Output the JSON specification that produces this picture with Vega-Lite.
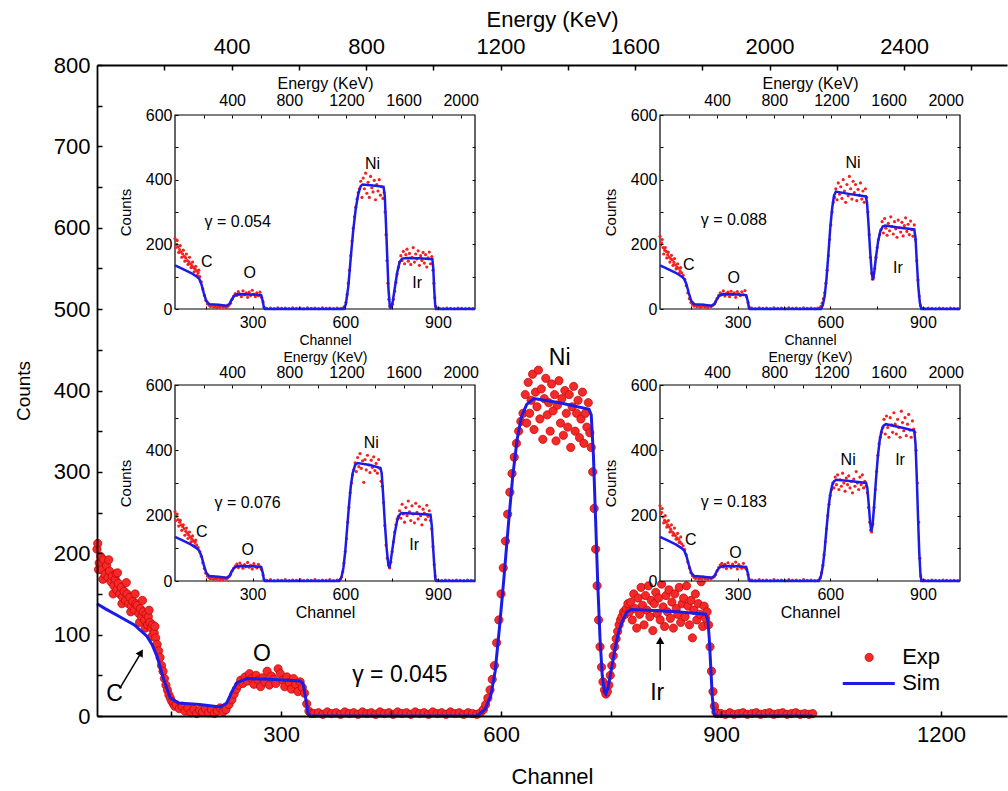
{
"$schema":"https://vega.github.io/schema/vega-lite/v6.json",
"autosize":{"type":"none"},
"width":910,"height":651,
"padding":{"left":97,"top":65,"right":1,"bottom":75},
"background":"white",
"config":{"view":{"stroke":null},"font":"Liberation Sans",
 "axis":{"grid":false,"labelFont":"Liberation Sans","titleFont":"Liberation Sans","labelColor":"black","titleColor":"black","domainColor":"black","tickColor":"black","titleFontWeight":"normal","format":"d","labelOverlap":false,"labelFlush":false},
 "text":{"font":"Liberation Sans"}},
"datasets":{
"mainFrame":[{"e0":0,"e1":2706,"y0":0,"y1":800}],
"insetFrame":[{"e0":0,"e1":2100,"y0":0,"y1":600}],
"mainExp":[{"c":49,"v":205},{"c":50,"v":212},{"c":51,"v":180},{"c":52,"v":188},{"c":54,"v":196},{"c":56,"v":180},{"c":57,"v":168},{"c":58,"v":192},{"c":60,"v":174},{"c":62,"v":185},{"c":64,"v":170},{"c":65,"v":192},{"c":66,"v":178},{"c":68,"v":165},{"c":70,"v":172},{"c":71,"v":150},{"c":72,"v":160},{"c":74,"v":168},{"c":75,"v":175},{"c":76,"v":155},{"c":77,"v":176},{"c":78,"v":163},{"c":80,"v":150},{"c":82,"v":158},{"c":83,"v":138},{"c":84,"v":146},{"c":86,"v":153},{"c":88,"v":142},{"c":89,"v":164},{"c":90,"v":150},{"c":92,"v":138},{"c":94,"v":146},{"c":95,"v":128},{"c":96,"v":135},{"c":98,"v":141},{"c":100,"v":130},{"c":101,"v":150},{"c":102,"v":138},{"c":104,"v":136},{"c":106,"v":126},{"c":107,"v":115},{"c":108,"v":132},{"c":110,"v":122},{"c":111,"v":142},{"c":112,"v":128},{"c":114,"v":118},{"c":115,"v":108},{"c":116,"v":125},{"c":118,"v":112},{"c":119,"v":122},{"c":120,"v":130},{"c":121,"v":115},{"c":123,"v":108},{"c":124,"v":98},{"c":125,"v":112},{"c":127,"v":102},{"c":128,"v":110},{"c":129,"v":96},{"c":131,"v":88},{"c":133,"v":80},{"c":135,"v":72},{"c":137,"v":62},{"c":139,"v":55},{"c":141,"v":46},{"c":143,"v":38},{"c":145,"v":32},{"c":147,"v":26},{"c":149,"v":22},{"c":151,"v":18},{"c":153,"v":15},{"c":155,"v":12},
{"c":157,"v":14},{"c":161,"v":9},{"c":165,"v":12},{"c":169,"v":6},{"c":173,"v":10},{"c":177,"v":4},{"c":181,"v":8},{"c":185,"v":3},{"c":189,"v":7},{"c":193,"v":5},{"c":197,"v":9},{"c":201,"v":4},{"c":205,"v":8},{"c":209,"v":3},{"c":213,"v":6},{"c":217,"v":10},{"c":221,"v":5},{"c":225,"v":8},{"c":229,"v":14},{"c":233,"v":20},
{"c":236,"v":27},{"c":239,"v":33},{"c":242,"v":38},{"c":245,"v":44},{"c":248,"v":40},{"c":251,"v":48},{"c":254,"v":43},{"c":257,"v":52},{"c":260,"v":46},{"c":263,"v":39},{"c":266,"v":50},{"c":269,"v":44},{"c":272,"v":36},{"c":275,"v":47},{"c":278,"v":42},{"c":281,"v":55},{"c":284,"v":38},{"c":287,"v":49},{"c":290,"v":45},{"c":293,"v":40},{"c":296,"v":58},{"c":299,"v":52},{"c":302,"v":44},{"c":305,"v":36},{"c":308,"v":48},{"c":311,"v":41},{"c":314,"v":33},{"c":317,"v":46},{"c":320,"v":39},{"c":323,"v":30},{"c":326,"v":42},{"c":329,"v":35},{"c":332,"v":28},{"c":335,"v":15},{"c":338,"v":6},{"c":341,"v":3},
{"c":345,"v":3},{"c":351,"v":4},{"c":357,"v":2},{"c":363,"v":5},{"c":369,"v":3},{"c":375,"v":4},{"c":381,"v":2},{"c":387,"v":5},{"c":393,"v":3},{"c":399,"v":4},{"c":405,"v":2},{"c":411,"v":5},{"c":417,"v":3},{"c":423,"v":4},{"c":429,"v":2},{"c":435,"v":5},{"c":441,"v":3},{"c":447,"v":4},{"c":453,"v":2},{"c":459,"v":5},{"c":465,"v":3},{"c":471,"v":4},{"c":477,"v":2},{"c":483,"v":5},{"c":489,"v":3},{"c":495,"v":4},{"c":501,"v":2},{"c":507,"v":5},{"c":513,"v":3},{"c":519,"v":4},{"c":525,"v":2},{"c":531,"v":5},{"c":537,"v":3},{"c":543,"v":4},{"c":549,"v":2},{"c":555,"v":4},{"c":561,"v":3},{"c":567,"v":2},
{"c":572,"v":4},{"c":576,"v":8},{"c":579,"v":14},{"c":582,"v":22},{"c":585,"v":32},{"c":588,"v":45},{"c":591,"v":62},{"c":594,"v":90},{"c":597,"v":118},{"c":600,"v":150},{"c":603,"v":182},{"c":606,"v":215},{"c":609,"v":248},{"c":612,"v":275},{"c":615,"v":298},{"c":618,"v":318},{"c":621,"v":335},{"c":624,"v":350},{"c":627,"v":362},{"c":630,"v":372},
{"c":633,"v":395},{"c":635,"v":360},{"c":637,"v":410},{"c":639,"v":372},{"c":641,"v":388},{"c":643,"v":420},{"c":645,"v":352},{"c":647,"v":398},{"c":649,"v":380},{"c":651,"v":425},{"c":653,"v":365},{"c":655,"v":402},{"c":657,"v":340},{"c":659,"v":390},{"c":661,"v":415},{"c":663,"v":370},{"c":665,"v":385},{"c":667,"v":350},{"c":669,"v":408},{"c":671,"v":375},{"c":673,"v":395},{"c":675,"v":338},{"c":677,"v":382},{"c":679,"v":412},{"c":681,"v":360},{"c":683,"v":390},{"c":685,"v":345},{"c":687,"v":400},{"c":689,"v":372},{"c":691,"v":355},{"c":693,"v":395},{"c":695,"v":330},{"c":697,"v":380},{"c":699,"v":405},{"c":701,"v":350},{"c":703,"v":372},{"c":705,"v":388},{"c":707,"v":342},{"c":709,"v":365},{"c":711,"v":398},{"c":713,"v":335},{"c":715,"v":372},{"c":717,"v":355},{"c":719,"v":385},{"c":721,"v":348},{"c":723,"v":330},
{"c":725,"v":300},{"c":727,"v":255},{"c":729,"v":205},{"c":731,"v":160},{"c":733,"v":118},{"c":735,"v":85},{"c":737,"v":60},{"c":739,"v":42},{"c":741,"v":32},{"c":743,"v":27},{"c":745,"v":30},{"c":747,"v":38},{"c":749,"v":50},{"c":751,"v":62},{"c":753,"v":74},{"c":755,"v":85},{"c":757,"v":95},{"c":759,"v":104},{"c":761,"v":112},{"c":763,"v":118},{"c":765,"v":122},{"c":767,"v":128},{"c":769,"v":125},{"c":771,"v":132},{"c":773,"v":138},{"c":775,"v":128},
{"c":777,"v":140},{"c":779,"v":118},{"c":781,"v":150},{"c":783,"v":132},{"c":785,"v":108},{"c":787,"v":145},{"c":789,"v":125},{"c":791,"v":158},{"c":793,"v":136},{"c":795,"v":112},{"c":797,"v":148},{"c":799,"v":130},{"c":801,"v":160},{"c":803,"v":122},{"c":805,"v":142},{"c":807,"v":105},{"c":809,"v":138},{"c":811,"v":152},{"c":813,"v":126},{"c":815,"v":145},{"c":817,"v":118},{"c":819,"v":162},{"c":821,"v":134},{"c":823,"v":110},{"c":825,"v":148},{"c":827,"v":128},{"c":829,"v":155},{"c":831,"v":120},{"c":833,"v":140},{"c":835,"v":108},{"c":837,"v":150},{"c":839,"v":132},{"c":841,"v":125},{"c":843,"v":158},{"c":845,"v":115},{"c":847,"v":138},{"c":849,"v":145},{"c":851,"v":122},{"c":853,"v":160},{"c":855,"v":135},{"c":857,"v":112},{"c":859,"v":142},{"c":861,"v":96},{"c":863,"v":130},{"c":865,"v":150},{"c":867,"v":118},{"c":869,"v":138},{"c":871,"v":125},{"c":873,"v":165},{"c":875,"v":110},{"c":877,"v":135},{"c":879,"v":120},{"c":881,"v":128},
{"c":883,"v":112},{"c":885,"v":85},{"c":887,"v":55},{"c":889,"v":30},{"c":891,"v":12},{"c":893,"v":5},{"c":895,"v":3},
{"c":900,"v":3},{"c":906,"v":2},{"c":912,"v":4},{"c":918,"v":2},{"c":924,"v":3},{"c":930,"v":4},{"c":936,"v":2},{"c":942,"v":3},{"c":948,"v":4},{"c":954,"v":2},{"c":960,"v":3},{"c":966,"v":4},{"c":972,"v":2},{"c":978,"v":3},{"c":984,"v":4},{"c":990,"v":2},{"c":996,"v":3},{"c":1002,"v":4},{"c":1008,"v":2},{"c":1014,"v":3},{"c":1020,"v":2},{"c":1025,"v":3}],
"mainSim":[{"c":49,"v":138},{"c":60,"v":132},{"c":80,"v":122},{"c":100,"v":112},{"c":117,"v":98},{"c":124,"v":88},{"c":131,"v":73},{"c":140,"v":45},{"c":149,"v":22},{"c":160,"v":16},{"c":189,"v":14},{"c":217,"v":11},{"c":226,"v":16},{"c":233,"v":30},{"c":240,"v":41},{"c":254,"v":46},{"c":290,"v":45},{"c":326,"v":43},{"c":330,"v":40},{"c":333,"v":25},{"c":337,"v":3},{"c":340,"v":0},{"c":567,"v":0},{"c":578,"v":8},{"c":586,"v":25},{"c":592,"v":55},{"c":598,"v":110},{"c":604,"v":170},{"c":610,"v":235},{"c":616,"v":295},{"c":622,"v":340},{"c":628,"v":368},{"c":635,"v":383},{"c":645,"v":390},{"c":680,"v":385},{"c":720,"v":377},{"c":723,"v":370},{"c":726,"v":320},{"c":729,"v":240},{"c":732,"v":160},{"c":735,"v":95},{"c":738,"v":50},{"c":741,"v":30},{"c":743,"v":27},{"c":746,"v":35},{"c":750,"v":55},{"c":755,"v":80},{"c":760,"v":102},{"c":766,"v":118},{"c":772,"v":128},{"c":778,"v":131},{"c":800,"v":130},{"c":840,"v":128},{"c":879,"v":125},{"c":882,"v":118},{"c":884,"v":95},{"c":886,"v":60},{"c":888,"v":25},{"c":890,"v":5},{"c":892,"v":0},{"c":1025,"v":0}],
"mainText":[{"c":680,"v":440,"t":"Ni"},{"c":274,"v":76,"t":"O"},{"c":73,"v":27,"t":"C"},{"c":813,"v":28,"t":"Ir"},{"c":462,"v":50,"t":"γ = 0.045"}],
"arrowLines":[{"c":80,"v":34,"c2":108,"v2":76},{"c":817,"v":56,"c2":817,"v2":90}],
"arrowC":[{"c":109,"v":78}],
"arrowIr":[{"c":817,"v":93}],
"legPoint":[{"c":1102,"v":72}],
"legLine":[{"c":1066,"c2":1137,"v":40}],
"legText":[{"c":1147,"v":72,"t":"Exp"},{"c":1147,"v":40,"t":"Sim"}],
"aExp":[{"c":49,"v":218},{"c":51,"v":190},{"c":54,"v":200},{"c":56,"v":212},{"c":59,"v":192},{"c":61,"v":175},{"c":64,"v":184},{"c":66,"v":196},{"c":69,"v":176},{"c":71,"v":160},{"c":74,"v":170},{"c":76,"v":182},{"c":79,"v":163},{"c":81,"v":148},{"c":84,"v":158},{"c":86,"v":170},{"c":89,"v":150},{"c":91,"v":138},{"c":94,"v":146},{"c":96,"v":160},{"c":99,"v":140},{"c":101,"v":128},{"c":104,"v":134},{"c":106,"v":145},{"c":109,"v":128},{"c":111,"v":115},{"c":114,"v":124},{"c":116,"v":132},{"c":119,"v":118},{"c":121,"v":104},{"c":124,"v":112},{"c":126,"v":120},{"c":129,"v":100},{"c":134,"v":84},{"c":139,"v":62},{"c":144,"v":42},{"c":149,"v":26},{"c":154,"v":16},{"c":159,"v":12},{"c":164,"v":8},{"c":169,"v":13},{"c":174,"v":6},{"c":179,"v":10},{"c":184,"v":4},{"c":189,"v":9},{"c":194,"v":5},{"c":199,"v":11},{"c":204,"v":6},{"c":209,"v":9},{"c":214,"v":4},{"c":219,"v":8},{"c":224,"v":12},{"c":229,"v":18},{"c":234,"v":30},{"c":239,"v":40},{"c":244,"v":48},{"c":249,"v":42},{"c":254,"v":54},{"c":259,"v":46},{"c":264,"v":38},{"c":269,"v":56},{"c":274,"v":44},{"c":279,"v":50},{"c":284,"v":36},{"c":289,"v":52},{"c":294,"v":42},{"c":299,"v":58},{"c":304,"v":46},{"c":309,"v":38},{"c":314,"v":50},{"c":319,"v":41},{"c":324,"v":52},{"c":329,"v":36},{"c":334,"v":22},{"c":338,"v":5},
{"c":346,"v":2},{"c":358,"v":3},{"c":370,"v":1},{"c":382,"v":4},{"c":394,"v":2},{"c":406,"v":3},{"c":418,"v":1},{"c":430,"v":4},{"c":442,"v":2},{"c":454,"v":3},{"c":466,"v":1},{"c":478,"v":4},{"c":490,"v":2},{"c":502,"v":3},{"c":514,"v":1},{"c":526,"v":4},{"c":538,"v":2},{"c":550,"v":3},{"c":562,"v":1},{"c":574,"v":3},{"c":586,"v":2},{"c":594,"v":4},
{"c":598,"v":8},{"c":602,"v":20},{"c":606,"v":45},{"c":610,"v":80},{"c":614,"v":120},{"c":618,"v":165},{"c":622,"v":210},{"c":626,"v":250},{"c":630,"v":285},{"c":634,"v":315},{"c":638,"v":340},{"c":642,"v":360},{"c":646,"v":372},{"c":650,"v":395},{"c":654,"v":345},{"c":658,"v":405},{"c":662,"v":372},{"c":666,"v":420},{"c":670,"v":358},{"c":674,"v":392},{"c":678,"v":345},{"c":682,"v":410},{"c":686,"v":375},{"c":690,"v":362},{"c":694,"v":398},{"c":698,"v":338},{"c":702,"v":385},{"c":706,"v":365},{"c":710,"v":400},{"c":714,"v":352},{"c":718,"v":378},{"c":722,"v":342},{"c":726,"v":360},{"c":729,"v":300},{"c":732,"v":230},{"c":735,"v":150},{"c":738,"v":80},{"c":741,"v":30},{"c":744,"v":8},{"c":747,"v":4},{"c":750,"v":8},
{"c":753,"v":15},{"c":756,"v":30},{"c":760,"v":55},{"c":764,"v":82},{"c":768,"v":108},{"c":772,"v":128},{"c":776,"v":145},{"c":780,"v":165},{"c":784,"v":150},{"c":788,"v":178},{"c":792,"v":140},{"c":796,"v":168},{"c":800,"v":185},{"c":804,"v":148},{"c":808,"v":172},{"c":812,"v":138},{"c":816,"v":160},{"c":820,"v":190},{"c":824,"v":145},{"c":828,"v":170},{"c":832,"v":155},{"c":836,"v":180},{"c":840,"v":135},{"c":844,"v":165},{"c":848,"v":150},{"c":852,"v":175},{"c":856,"v":142},{"c":860,"v":168},{"c":864,"v":130},{"c":868,"v":158},{"c":872,"v":176},{"c":876,"v":140},{"c":880,"v":162},{"c":884,"v":120},{"c":887,"v":80},{"c":890,"v":35},{"c":893,"v":8},{"c":896,"v":2},
{"c":905,"v":2},{"c":917,"v":1},{"c":929,"v":3},{"c":941,"v":2},{"c":953,"v":1},{"c":965,"v":3},{"c":977,"v":2},{"c":989,"v":1},{"c":1001,"v":2},{"c":1013,"v":1}],
"aSim":[{"c":49,"v":135},{"c":70,"v":126},{"c":100,"v":112},{"c":120,"v":100},{"c":128,"v":92},{"c":135,"v":75},{"c":142,"v":50},{"c":150,"v":25},{"c":160,"v":15},{"c":190,"v":13},{"c":215,"v":10},{"c":225,"v":15},{"c":232,"v":28},{"c":240,"v":40},{"c":252,"v":46},{"c":300,"v":45},{"c":328,"v":43},{"c":333,"v":25},{"c":337,"v":3},{"c":340,"v":0},{"c":595,"v":0},{"c":602,"v":15},{"c":610,"v":70},{"c":618,"v":160},{"c":626,"v":245},{"c":634,"v":310},{"c":642,"v":355},{"c":650,"v":380},{"c":656,"v":385},{"c":690,"v":382},{"c":724,"v":378},{"c":728,"v":350},{"c":732,"v":260},{"c":736,"v":160},{"c":740,"v":60},{"c":744,"v":12},{"c":747,"v":4},{"c":750,"v":6},{"c":754,"v":25},{"c":760,"v":62},{"c":768,"v":112},{"c":776,"v":145},{"c":784,"v":156},{"c":800,"v":158},{"c":840,"v":157},{"c":882,"v":154},{"c":885,"v":125},{"c":888,"v":60},{"c":891,"v":15},{"c":894,"v":0},{"c":1020,"v":0}],
"aText":[{"c":688,"v":450,"t":"Ni"},{"c":152,"v":145,"t":"C"},{"c":291,"v":111,"t":"O"},{"c":833,"v":80,"t":"Ir"},{"c":252,"v":269,"t":"γ = 0.054"}],
"bExp":[{"c":49,"v":225},{"c":51,"v":198},{"c":54,"v":205},{"c":56,"v":215},{"c":59,"v":190},{"c":61,"v":170},{"c":64,"v":182},{"c":66,"v":190},{"c":69,"v":178},{"c":71,"v":158},{"c":74,"v":168},{"c":76,"v":176},{"c":79,"v":160},{"c":81,"v":145},{"c":84,"v":155},{"c":86,"v":166},{"c":89,"v":152},{"c":91,"v":135},{"c":94,"v":144},{"c":96,"v":156},{"c":99,"v":136},{"c":101,"v":124},{"c":104,"v":130},{"c":106,"v":140},{"c":109,"v":126},{"c":111,"v":110},{"c":114,"v":118},{"c":116,"v":128},{"c":119,"v":112},{"c":121,"v":100},{"c":124,"v":104},{"c":129,"v":92},{"c":134,"v":72},{"c":139,"v":50},{"c":144,"v":32},{"c":149,"v":20},{"c":154,"v":14},{"c":159,"v":9},{"c":164,"v":12},{"c":169,"v":7},{"c":174,"v":10},{"c":179,"v":5},{"c":184,"v":8},{"c":189,"v":12},{"c":194,"v":6},{"c":199,"v":9},{"c":204,"v":4},{"c":209,"v":10},{"c":214,"v":7},{"c":219,"v":11},{"c":224,"v":15},{"c":229,"v":22},{"c":234,"v":33},{"c":239,"v":42},{"c":244,"v":50},{"c":249,"v":44},{"c":254,"v":56},{"c":259,"v":40},{"c":264,"v":48},{"c":269,"v":52},{"c":274,"v":38},{"c":279,"v":55},{"c":284,"v":45},{"c":289,"v":50},{"c":294,"v":36},{"c":299,"v":54},{"c":304,"v":47},{"c":309,"v":41},{"c":314,"v":53},{"c":319,"v":44},{"c":324,"v":57},{"c":329,"v":38},{"c":334,"v":20},{"c":338,"v":6},
{"c":346,"v":3},{"c":358,"v":1},{"c":370,"v":4},{"c":382,"v":2},{"c":394,"v":3},{"c":406,"v":1},{"c":418,"v":4},{"c":430,"v":2},{"c":442,"v":3},{"c":454,"v":1},{"c":466,"v":4},{"c":478,"v":2},{"c":490,"v":3},{"c":502,"v":1},{"c":514,"v":4},{"c":526,"v":2},{"c":538,"v":3},{"c":550,"v":1},{"c":560,"v":3},
{"c":566,"v":3},{"c":570,"v":8},{"c":574,"v":18},{"c":578,"v":32},{"c":582,"v":50},{"c":586,"v":80},{"c":590,"v":120},{"c":594,"v":165},{"c":598,"v":215},{"c":602,"v":260},{"c":606,"v":300},{"c":610,"v":330},{"c":614,"v":345},{"c":618,"v":372},{"c":622,"v":338},{"c":626,"v":390},{"c":630,"v":355},{"c":634,"v":378},{"c":638,"v":342},{"c":642,"v":400},{"c":646,"v":365},{"c":650,"v":330},{"c":654,"v":385},{"c":658,"v":350},{"c":662,"v":410},{"c":666,"v":372},{"c":670,"v":340},{"c":674,"v":395},{"c":678,"v":360},{"c":682,"v":385},{"c":686,"v":335},{"c":690,"v":370},{"c":694,"v":352},{"c":698,"v":390},{"c":702,"v":340},{"c":706,"v":365},{"c":710,"v":330},{"c":714,"v":372},{"c":718,"v":345},{"c":722,"v":300},{"c":726,"v":230},{"c":730,"v":160},{"c":734,"v":110},{"c":737,"v":92},{"c":740,"v":98},{"c":744,"v":125},{"c":748,"v":160},{"c":752,"v":190},{"c":756,"v":215},{"c":760,"v":230},
{"c":764,"v":245},{"c":768,"v":270},{"c":772,"v":235},{"c":776,"v":280},{"c":780,"v":250},{"c":784,"v":228},{"c":788,"v":265},{"c":792,"v":242},{"c":796,"v":285},{"c":800,"v":255},{"c":804,"v":232},{"c":808,"v":270},{"c":812,"v":248},{"c":816,"v":222},{"c":820,"v":275},{"c":824,"v":252},{"c":828,"v":238},{"c":832,"v":268},{"c":836,"v":226},{"c":840,"v":258},{"c":844,"v":282},{"c":848,"v":240},{"c":852,"v":262},{"c":856,"v":230},{"c":860,"v":272},{"c":864,"v":245},{"c":868,"v":225},{"c":872,"v":260},{"c":876,"v":215},{"c":880,"v":150},{"c":884,"v":90},{"c":888,"v":40},{"c":892,"v":10},{"c":896,"v":2},
{"c":905,"v":1},{"c":917,"v":3},{"c":929,"v":2},{"c":941,"v":1},{"c":953,"v":3},{"c":965,"v":2},{"c":977,"v":1},{"c":989,"v":3},{"c":1001,"v":2},{"c":1013,"v":1}],
"bSim":[{"c":49,"v":135},{"c":70,"v":126},{"c":100,"v":112},{"c":120,"v":100},{"c":128,"v":92},{"c":135,"v":75},{"c":142,"v":50},{"c":150,"v":25},{"c":160,"v":15},{"c":190,"v":13},{"c":215,"v":10},{"c":225,"v":15},{"c":232,"v":28},{"c":240,"v":40},{"c":252,"v":46},{"c":300,"v":45},{"c":328,"v":43},{"c":333,"v":25},{"c":337,"v":3},{"c":340,"v":0},{"c":570,"v":0},{"c":576,"v":12},{"c":582,"v":40},{"c":588,"v":95},{"c":594,"v":170},{"c":600,"v":250},{"c":606,"v":310},{"c":612,"v":350},{"c":618,"v":363},{"c":660,"v":356},{"c":715,"v":348},{"c":719,"v":330},{"c":724,"v":260},{"c":729,"v":180},{"c":734,"v":115},{"c":738,"v":90},{"c":742,"v":110},{"c":748,"v":160},{"c":755,"v":210},{"c":762,"v":240},{"c":770,"v":255},{"c":778,"v":258},{"c":820,"v":252},{"c":872,"v":246},{"c":876,"v":220},{"c":880,"v":150},{"c":885,"v":70},{"c":890,"v":20},{"c":895,"v":0},{"c":1020,"v":0}],
"bText":[{"c":674,"v":451,"t":"Ni"},{"c":142,"v":136,"t":"C"},{"c":288,"v":96,"t":"O"},{"c":819,"v":127,"t":"Ir"},{"c":288,"v":275,"t":"γ = 0.088"}],
"cExp":[{"c":49,"v":212},{"c":51,"v":185},{"c":54,"v":198},{"c":56,"v":205},{"c":59,"v":188},{"c":61,"v":168},{"c":64,"v":180},{"c":66,"v":186},{"c":69,"v":172},{"c":71,"v":155},{"c":74,"v":166},{"c":76,"v":172},{"c":79,"v":160},{"c":81,"v":140},{"c":84,"v":152},{"c":86,"v":162},{"c":89,"v":146},{"c":91,"v":130},{"c":94,"v":140},{"c":96,"v":150},{"c":99,"v":134},{"c":101,"v":120},{"c":104,"v":128},{"c":106,"v":138},{"c":109,"v":122},{"c":111,"v":108},{"c":114,"v":118},{"c":116,"v":125},{"c":119,"v":110},{"c":124,"v":102},{"c":129,"v":90},{"c":134,"v":76},{"c":139,"v":56},{"c":144,"v":38},{"c":149,"v":24},{"c":154,"v":15},{"c":159,"v":10},{"c":164,"v":7},{"c":169,"v":12},{"c":174,"v":5},{"c":179,"v":9},{"c":184,"v":6},{"c":189,"v":11},{"c":194,"v":4},{"c":199,"v":8},{"c":204,"v":5},{"c":209,"v":10},{"c":214,"v":6},{"c":219,"v":9},{"c":224,"v":14},{"c":229,"v":20},{"c":234,"v":31},{"c":239,"v":39},{"c":244,"v":46},{"c":249,"v":52},{"c":254,"v":41},{"c":259,"v":55},{"c":264,"v":47},{"c":269,"v":39},{"c":274,"v":50},{"c":279,"v":44},{"c":284,"v":57},{"c":289,"v":42},{"c":294,"v":48},{"c":299,"v":37},{"c":304,"v":53},{"c":309,"v":45},{"c":314,"v":40},{"c":319,"v":51},{"c":324,"v":43},{"c":329,"v":35},{"c":334,"v":18},{"c":338,"v":4},
{"c":346,"v":2},{"c":358,"v":4},{"c":370,"v":1},{"c":382,"v":3},{"c":394,"v":2},{"c":406,"v":4},{"c":418,"v":1},{"c":430,"v":3},{"c":442,"v":2},{"c":454,"v":4},{"c":466,"v":1},{"c":478,"v":3},{"c":490,"v":2},{"c":502,"v":4},{"c":514,"v":1},{"c":526,"v":3},{"c":538,"v":2},{"c":550,"v":4},{"c":562,"v":1},{"c":574,"v":3},{"c":580,"v":2},
{"c":584,"v":4},{"c":588,"v":12},{"c":592,"v":28},{"c":596,"v":55},{"c":600,"v":90},{"c":604,"v":130},{"c":608,"v":180},{"c":612,"v":225},{"c":616,"v":270},{"c":620,"v":300},{"c":624,"v":325},{"c":628,"v":340},{"c":632,"v":362},{"c":636,"v":335},{"c":640,"v":378},{"c":644,"v":350},{"c":648,"v":390},{"c":652,"v":345},{"c":656,"v":368},{"c":660,"v":302},{"c":664,"v":372},{"c":668,"v":340},{"c":672,"v":385},{"c":676,"v":355},{"c":680,"v":332},{"c":684,"v":370},{"c":688,"v":348},{"c":692,"v":380},{"c":696,"v":338},{"c":700,"v":360},{"c":704,"v":330},{"c":708,"v":372},{"c":712,"v":345},{"c":716,"v":305},{"c":720,"v":290},{"c":724,"v":240},{"c":728,"v":170},{"c":732,"v":110},{"c":736,"v":70},{"c":740,"v":48},{"c":744,"v":40},{"c":748,"v":58},{"c":752,"v":90},{"c":756,"v":120},{"c":760,"v":150},{"c":764,"v":172},{"c":768,"v":190},{"c":772,"v":198},
{"c":776,"v":215},{"c":780,"v":192},{"c":784,"v":235},{"c":788,"v":205},{"c":792,"v":180},{"c":796,"v":225},{"c":800,"v":200},{"c":804,"v":245},{"c":808,"v":212},{"c":812,"v":185},{"c":816,"v":230},{"c":820,"v":205},{"c":824,"v":178},{"c":828,"v":238},{"c":832,"v":210},{"c":836,"v":190},{"c":840,"v":228},{"c":844,"v":200},{"c":848,"v":172},{"c":852,"v":220},{"c":856,"v":208},{"c":860,"v":188},{"c":864,"v":232},{"c":868,"v":198},{"c":872,"v":215},{"c":876,"v":185},{"c":880,"v":160},{"c":884,"v":105},{"c":888,"v":50},{"c":891,"v":15},{"c":894,"v":3},
{"c":900,"v":2},{"c":912,"v":1},{"c":924,"v":3},{"c":936,"v":2},{"c":948,"v":1},{"c":960,"v":3},{"c":972,"v":2},{"c":984,"v":1},{"c":996,"v":3},{"c":1008,"v":2},{"c":1018,"v":1}],
"cSim":[{"c":49,"v":135},{"c":70,"v":126},{"c":100,"v":112},{"c":120,"v":100},{"c":128,"v":92},{"c":135,"v":75},{"c":142,"v":50},{"c":150,"v":25},{"c":160,"v":15},{"c":190,"v":13},{"c":215,"v":10},{"c":225,"v":15},{"c":232,"v":28},{"c":240,"v":40},{"c":252,"v":46},{"c":300,"v":45},{"c":328,"v":43},{"c":333,"v":25},{"c":337,"v":3},{"c":340,"v":0},{"c":580,"v":0},{"c":588,"v":12},{"c":594,"v":40},{"c":600,"v":90},{"c":606,"v":160},{"c":612,"v":230},{"c":618,"v":290},{"c":624,"v":330},{"c":632,"v":355},{"c":640,"v":361},{"c":680,"v":355},{"c":714,"v":346},{"c":718,"v":330},{"c":723,"v":260},{"c":728,"v":180},{"c":734,"v":100},{"c":739,"v":55},{"c":743,"v":40},{"c":747,"v":60},{"c":753,"v":100},{"c":760,"v":145},{"c":768,"v":185},{"c":776,"v":203},{"c":782,"v":208},{"c":830,"v":206},{"c":876,"v":203},{"c":880,"v":170},{"c":884,"v":110},{"c":888,"v":50},{"c":892,"v":5},{"c":895,"v":0},{"c":1020,"v":0}],
"cText":[{"c":684,"v":422,"t":"Ni"},{"c":136,"v":150,"t":"C"},{"c":284,"v":95,"t":"O"},{"c":823,"v":110,"t":"Ir"},{"c":284,"v":239,"t":"γ = 0.076"}],
"dExp":[{"c":49,"v":230},{"c":51,"v":205},{"c":54,"v":210},{"c":56,"v":222},{"c":59,"v":196},{"c":61,"v":178},{"c":64,"v":186},{"c":66,"v":200},{"c":69,"v":180},{"c":71,"v":165},{"c":74,"v":172},{"c":76,"v":185},{"c":79,"v":165},{"c":81,"v":150},{"c":84,"v":158},{"c":86,"v":172},{"c":89,"v":150},{"c":91,"v":140},{"c":94,"v":145},{"c":96,"v":162},{"c":99,"v":139},{"c":101,"v":128},{"c":104,"v":132},{"c":106,"v":146},{"c":109,"v":128},{"c":111,"v":118},{"c":114,"v":120},{"c":116,"v":135},{"c":119,"v":114},{"c":124,"v":108},{"c":129,"v":96},{"c":134,"v":80},{"c":139,"v":58},{"c":144,"v":40},{"c":149,"v":25},{"c":154,"v":16},{"c":159,"v":11},{"c":164,"v":8},{"c":169,"v":14},{"c":174,"v":6},{"c":179,"v":10},{"c":184,"v":5},{"c":189,"v":12},{"c":194,"v":7},{"c":199,"v":9},{"c":204,"v":4},{"c":209,"v":11},{"c":214,"v":6},{"c":219,"v":10},{"c":224,"v":13},{"c":229,"v":19},{"c":234,"v":32},{"c":239,"v":41},{"c":244,"v":49},{"c":249,"v":54},{"c":254,"v":43},{"c":259,"v":51},{"c":264,"v":38},{"c":269,"v":56},{"c":274,"v":46},{"c":279,"v":40},{"c":284,"v":52},{"c":289,"v":45},{"c":294,"v":58},{"c":299,"v":37},{"c":304,"v":50},{"c":309,"v":44},{"c":314,"v":39},{"c":319,"v":54},{"c":324,"v":41},{"c":329,"v":36},{"c":334,"v":19},{"c":338,"v":5},
{"c":346,"v":3},{"c":358,"v":1},{"c":370,"v":4},{"c":382,"v":2},{"c":394,"v":3},{"c":406,"v":1},{"c":418,"v":4},{"c":430,"v":2},{"c":442,"v":3},{"c":454,"v":1},{"c":466,"v":4},{"c":478,"v":2},{"c":490,"v":3},{"c":502,"v":1},{"c":514,"v":4},{"c":526,"v":2},{"c":538,"v":3},{"c":550,"v":1},{"c":560,"v":2},
{"c":564,"v":3},{"c":568,"v":10},{"c":572,"v":25},{"c":576,"v":48},{"c":580,"v":80},{"c":584,"v":120},{"c":588,"v":160},{"c":592,"v":200},{"c":596,"v":235},{"c":600,"v":262},{"c":604,"v":280},{"c":608,"v":300},{"c":612,"v":285},{"c":616,"v":318},{"c":620,"v":295},{"c":624,"v":325},{"c":628,"v":280},{"c":632,"v":310},{"c":636,"v":290},{"c":640,"v":330},{"c":644,"v":300},{"c":648,"v":275},{"c":652,"v":315},{"c":656,"v":295},{"c":660,"v":322},{"c":664,"v":285},{"c":668,"v":305},{"c":672,"v":270},{"c":676,"v":312},{"c":680,"v":290},{"c":684,"v":335},{"c":688,"v":300},{"c":692,"v":280},{"c":696,"v":318},{"c":700,"v":295},{"c":704,"v":325},{"c":708,"v":285},{"c":712,"v":305},{"c":716,"v":290},{"c":720,"v":270},{"c":724,"v":225},{"c":728,"v":180},{"c":731,"v":155},{"c":734,"v":150},{"c":738,"v":175},{"c":742,"v":225},{"c":746,"v":280},{"c":750,"v":335},{"c":754,"v":385},{"c":758,"v":420},{"c":762,"v":440},{"c":766,"v":455},
{"c":770,"v":470},{"c":774,"v":495},{"c":778,"v":450},{"c":782,"v":505},{"c":786,"v":470},{"c":790,"v":440},{"c":794,"v":500},{"c":798,"v":478},{"c":802,"v":455},{"c":806,"v":515},{"c":810,"v":480},{"c":814,"v":450},{"c":818,"v":495},{"c":822,"v":470},{"c":826,"v":440},{"c":830,"v":520},{"c":834,"v":485},{"c":838,"v":460},{"c":842,"v":500},{"c":846,"v":445},{"c":850,"v":480},{"c":854,"v":510},{"c":858,"v":462},{"c":862,"v":440},{"c":866,"v":490},{"c":870,"v":465},{"c":874,"v":455},{"c":878,"v":400},{"c":882,"v":300},{"c":886,"v":180},{"c":890,"v":70},{"c":893,"v":15},{"c":896,"v":3},
{"c":905,"v":2},{"c":917,"v":1},{"c":929,"v":3},{"c":941,"v":2},{"c":953,"v":1},{"c":965,"v":3},{"c":977,"v":2},{"c":989,"v":1},{"c":1001,"v":2},{"c":1013,"v":1}],
"dSim":[{"c":49,"v":135},{"c":70,"v":126},{"c":100,"v":112},{"c":120,"v":100},{"c":128,"v":92},{"c":135,"v":75},{"c":142,"v":50},{"c":150,"v":25},{"c":160,"v":15},{"c":190,"v":13},{"c":215,"v":10},{"c":225,"v":15},{"c":232,"v":28},{"c":240,"v":40},{"c":252,"v":46},{"c":300,"v":45},{"c":328,"v":43},{"c":333,"v":25},{"c":337,"v":3},{"c":340,"v":0},{"c":563,"v":0},{"c":570,"v":15},{"c":576,"v":45},{"c":582,"v":95},{"c":588,"v":160},{"c":594,"v":220},{"c":600,"v":265},{"c":606,"v":292},{"c":612,"v":305},{"c":620,"v":310},{"c":670,"v":305},{"c":716,"v":300},{"c":720,"v":285},{"c":725,"v":230},{"c":729,"v":180},{"c":733,"v":152},{"c":737,"v":170},{"c":742,"v":230},{"c":748,"v":310},{"c":754,"v":380},{"c":760,"v":430},{"c":766,"v":460},{"c":772,"v":475},{"c":780,"v":480},{"c":830,"v":470},{"c":872,"v":460},{"c":876,"v":420},{"c":880,"v":320},{"c":884,"v":200},{"c":888,"v":90},{"c":892,"v":20},{"c":895,"v":0},{"c":1020,"v":0}],
"dText":[{"c":658,"v":370,"t":"Ni"},{"c":826,"v":370,"t":"Ir"},{"c":149,"v":126,"t":"C"},{"c":293,"v":86,"t":"O"},{"c":288,"v":242,"t":"γ = 0.183"}]
},
"layer":[
{"data":{"name":"mainFrame"},"mark":{"type":"rect","fillOpacity":0,"strokeWidth":0},
 "encoding":{"x":{"field":"e0","type":"quantitative","scale":{"domain":[0,2706],"range":[0,910],"nice":false,"zero":false},
   "axis":{"zindex":1,"orient":"top","title":"Energy (KeV)","values":[200,400,600,800,1000,1200,1400,1600,1800,2000,2200,2400,2600],"labelExpr":"datum.value % 400 == 0 ? datum.label : ''","tickSize":-5,"tickWidth":1.5,"domainWidth":1.8,"labelPadding":12,"labelFontSize":22,"titleFontSize":22,"titlePadding":4}},
  "x2":{"field":"e1"},
  "y":{"field":"y0","type":"quantitative","scale":{"domain":[0,800],"range":[651,0],"nice":false,"zero":false},"axis":null},
  "y2":{"field":"y1"}}},
{"data":{"name":"mainExp"},"mark":{"type":"point","filled":true,"size":68,"fill":"#f42a2a","stroke":"#c00000","strokeWidth":0.7,"opacity":1},
 "encoding":{"x":{"field":"c","type":"quantitative","scale":{"domain":[49,1290],"range":[0,910],"nice":false,"zero":false},
   "axis":{"zindex":1,"orient":"bottom","title":"Channel","values":[150,300,450,600,750,900,1050,1200],"labelExpr":"datum.value % 300 == 0 ? datum.label : ''","tickSize":-5,"tickWidth":1.5,"domainWidth":1.8,"labelPadding":13,"labelFontSize":22,"titleFontSize":22,"titlePadding":21}},
  "y":{"field":"v","type":"quantitative","scale":{"domain":[0,800],"range":[651,0],"nice":false,"zero":false},
   "axis":{"zindex":1,"orient":"left","title":"Counts","values":[0,50,100,150,200,250,300,350,400,450,500,550,600,650,700,750,800],"labelExpr":"datum.value % 100 == 0 ? datum.label : ''","tickSize":-5,"tickWidth":1.5,"domainWidth":1.8,"labelPadding":12,"labelFontSize":22,"titleFontSize":19,"titlePadding":20}}}},
{"data":{"name":"mainSim"},"mark":{"type":"line","color":"#1c1ce6","strokeWidth":3},
 "encoding":{"x":{"field":"c","type":"quantitative","scale":{"domain":[49,1290],"range":[0,910],"nice":false,"zero":false},"axis":null},
  "y":{"field":"v","type":"quantitative","scale":{"domain":[0,800],"range":[651,0],"nice":false,"zero":false},"axis":null}}},
{"data":{"name":"mainText"},"mark":{"type":"text","fontSize":23,"color":"black"},
 "encoding":{"x":{"field":"c","type":"quantitative","scale":{"domain":[49,1290],"range":[0,910],"nice":false,"zero":false},"axis":null},
  "y":{"field":"v","type":"quantitative","scale":{"domain":[0,800],"range":[651,0],"nice":false,"zero":false},"axis":null},
  "text":{"field":"t"}}},
{"data":{"name":"arrowLines"},"mark":{"type":"rule","color":"black","strokeWidth":1.5},
 "encoding":{"x":{"field":"c","type":"quantitative","scale":{"domain":[49,1290],"range":[0,910],"nice":false,"zero":false},"axis":null},
  "x2":{"field":"c2"},
  "y":{"field":"v","type":"quantitative","scale":{"domain":[0,800],"range":[651,0],"nice":false,"zero":false},"axis":null},
  "y2":{"field":"v2"}}},
{"data":{"name":"arrowC"},"mark":{"type":"point","shape":"triangle-up","filled":true,"size":70,"color":"black","opacity":1,"angle":31},
 "encoding":{"x":{"field":"c","type":"quantitative","scale":{"domain":[49,1290],"range":[0,910],"nice":false,"zero":false},"axis":null},
  "y":{"field":"v","type":"quantitative","scale":{"domain":[0,800],"range":[651,0],"nice":false,"zero":false},"axis":null}}},
{"data":{"name":"arrowIr"},"mark":{"type":"point","shape":"triangle-up","filled":true,"size":70,"color":"black","opacity":1},
 "encoding":{"x":{"field":"c","type":"quantitative","scale":{"domain":[49,1290],"range":[0,910],"nice":false,"zero":false},"axis":null},
  "y":{"field":"v","type":"quantitative","scale":{"domain":[0,800],"range":[651,0],"nice":false,"zero":false},"axis":null}}},
{"data":{"name":"legPoint"},"mark":{"type":"point","filled":true,"size":68,"fill":"#f42a2a","stroke":"#c00000","strokeWidth":0.7,"opacity":1},
 "encoding":{"x":{"field":"c","type":"quantitative","scale":{"domain":[49,1290],"range":[0,910],"nice":false,"zero":false},"axis":null},
  "y":{"field":"v","type":"quantitative","scale":{"domain":[0,800],"range":[651,0],"nice":false,"zero":false},"axis":null}}},
{"data":{"name":"legLine"},"mark":{"type":"rule","color":"#1c1ce6","strokeWidth":3},
 "encoding":{"x":{"field":"c","type":"quantitative","scale":{"domain":[49,1290],"range":[0,910],"nice":false,"zero":false},"axis":null},
  "x2":{"field":"c2"},
  "y":{"field":"v","type":"quantitative","scale":{"domain":[0,800],"range":[651,0],"nice":false,"zero":false},"axis":null}}},
{"data":{"name":"legText"},"mark":{"type":"text","fontSize":22,"align":"left","color":"black"},
 "encoding":{"x":{"field":"c","type":"quantitative","scale":{"domain":[49,1290],"range":[0,910],"nice":false,"zero":false},"axis":null},
  "y":{"field":"v","type":"quantitative","scale":{"domain":[0,800],"range":[651,0],"nice":false,"zero":false},"axis":null},
  "text":{"field":"t"}}},

{"data":{"name":"insetFrame"},"mark":{"type":"rect","fill":"white","stroke":"black","strokeWidth":1.2},
 "encoding":{"x":{"field":"e0","type":"quantitative","scale":{"domain":[0,2100],"range":[78,378],"nice":false,"zero":false},
   "axis":{"zindex":1,"orient":"top","offset":-50,"title":"Energy (KeV)","values":[200,400,600,800,1000,1200,1400,1600,1800,2000],"labelExpr":"datum.value % 400 == 0 ? datum.label : ''","tickSize":-3,"domain":false,"labelPadding":10,"labelFontSize":16,"titleFontSize":16,"titlePadding":1}},
  "x2":{"field":"e1"},
  "y":{"field":"y0","type":"quantitative","scale":{"domain":[0,600],"range":[244,50],"nice":false,"zero":false},
   "axis":{"zindex":1,"orient":"right","offset":-532,"values":[100,200,300,400,500],"labels":false,"title":null,"domain":false,"tickSize":-3}},
  "y2":{"field":"y1"}}},
{"data":{"name":"aExp"},"mark":{"type":"point","filled":true,"size":10,"color":"#f42020","opacity":1},
 "encoding":{"x":{"field":"c","type":"quantitative","scale":{"domain":[49,1020],"range":[78,378],"nice":false,"zero":false},
   "axis":{"zindex":1,"orient":"bottom","offset":-407,"title":"Channel","values":[150,300,450,600,750,900],"labelExpr":"datum.value % 300 == 0 ? datum.label : ''","tickSize":-3,"domain":false,"labelPadding":8,"labelFontSize":16,"titleFontSize":14,"titlePadding":3}},
  "y":{"field":"v","type":"quantitative","scale":{"domain":[0,600],"range":[244,50],"nice":false,"zero":false},
   "axis":{"zindex":1,"orient":"left","offset":-78,"title":"Counts","values":[0,100,200,300,400,500,600],"labelExpr":"datum.value % 200 == 0 ? datum.label : ''","tickSize":-3,"domain":false,"labelPadding":6,"labelFontSize":16,"titleFontSize":15,"titlePadding":12}}}},
{"data":{"name":"aSim"},"mark":{"type":"line","color":"#1c1ce6","strokeWidth":2.5},
 "encoding":{"x":{"field":"c","type":"quantitative","scale":{"domain":[49,1020],"range":[78,378],"nice":false,"zero":false},"axis":null},
  "y":{"field":"v","type":"quantitative","scale":{"domain":[0,600],"range":[244,50],"nice":false,"zero":false},"axis":null}}},
{"data":{"name":"aText"},"mark":{"type":"text","fontSize":16,"color":"black"},
 "encoding":{"x":{"field":"c","type":"quantitative","scale":{"domain":[49,1020],"range":[78,378],"nice":false,"zero":false},"axis":null},
  "y":{"field":"v","type":"quantitative","scale":{"domain":[0,600],"range":[244,50],"nice":false,"zero":false},"axis":null},
  "text":{"field":"t"}}},

{"data":{"name":"insetFrame"},"mark":{"type":"rect","fill":"white","stroke":"black","strokeWidth":1.2},
 "encoding":{"x":{"field":"e0","type":"quantitative","scale":{"domain":[0,2100],"range":[563,863],"nice":false,"zero":false},
   "axis":{"zindex":1,"orient":"top","offset":-50,"title":"Energy (KeV)","values":[200,400,600,800,1000,1200,1400,1600,1800,2000],"labelExpr":"datum.value % 400 == 0 ? datum.label : ''","tickSize":-3,"domain":false,"labelPadding":10,"labelFontSize":16,"titleFontSize":16,"titlePadding":1}},
  "x2":{"field":"e1"},
  "y":{"field":"y0","type":"quantitative","scale":{"domain":[0,600],"range":[244,50],"nice":false,"zero":false},
   "axis":{"zindex":1,"orient":"right","offset":-47,"values":[100,200,300,400,500],"labels":false,"title":null,"domain":false,"tickSize":-3}},
  "y2":{"field":"y1"}}},
{"data":{"name":"bExp"},"mark":{"type":"point","filled":true,"size":10,"color":"#f42020","opacity":1},
 "encoding":{"x":{"field":"c","type":"quantitative","scale":{"domain":[49,1020],"range":[563,863],"nice":false,"zero":false},
   "axis":{"zindex":1,"orient":"bottom","offset":-407,"title":"Channel","values":[150,300,450,600,750,900],"labelExpr":"datum.value % 300 == 0 ? datum.label : ''","tickSize":-3,"domain":false,"labelPadding":8,"labelFontSize":16,"titleFontSize":14,"titlePadding":3}},
  "y":{"field":"v","type":"quantitative","scale":{"domain":[0,600],"range":[244,50],"nice":false,"zero":false},
   "axis":{"zindex":1,"orient":"left","offset":-563,"title":"Counts","values":[0,100,200,300,400,500,600],"labelExpr":"datum.value % 200 == 0 ? datum.label : ''","tickSize":-3,"domain":false,"labelPadding":6,"labelFontSize":16,"titleFontSize":15,"titlePadding":12}}}},
{"data":{"name":"bSim"},"mark":{"type":"line","color":"#1c1ce6","strokeWidth":2.5},
 "encoding":{"x":{"field":"c","type":"quantitative","scale":{"domain":[49,1020],"range":[563,863],"nice":false,"zero":false},"axis":null},
  "y":{"field":"v","type":"quantitative","scale":{"domain":[0,600],"range":[244,50],"nice":false,"zero":false},"axis":null}}},
{"data":{"name":"bText"},"mark":{"type":"text","fontSize":16,"color":"black"},
 "encoding":{"x":{"field":"c","type":"quantitative","scale":{"domain":[49,1020],"range":[563,863],"nice":false,"zero":false},"axis":null},
  "y":{"field":"v","type":"quantitative","scale":{"domain":[0,600],"range":[244,50],"nice":false,"zero":false},"axis":null},
  "text":{"field":"t"}}},

{"data":{"name":"insetFrame"},"mark":{"type":"rect","fill":"white","stroke":"black","strokeWidth":1.2},
 "encoding":{"x":{"field":"e0","type":"quantitative","scale":{"domain":[0,2100],"range":[78,378],"nice":false,"zero":false},
   "axis":{"zindex":1,"orient":"top","offset":-320,"title":"Energy (KeV)","values":[200,400,600,800,1000,1200,1400,1600,1800,2000],"labelExpr":"datum.value % 400 == 0 ? datum.label : ''","tickSize":-3,"domain":false,"labelPadding":8,"labelFontSize":16,"titleFontSize":14,"titlePadding":0}},
  "x2":{"field":"e1"},
  "y":{"field":"y0","type":"quantitative","scale":{"domain":[0,600],"range":[516,320],"nice":false,"zero":false},
   "axis":{"zindex":1,"orient":"right","offset":-532,"values":[100,200,300,400,500],"labels":false,"title":null,"domain":false,"tickSize":-3}},
  "y2":{"field":"y1"}}},
{"data":{"name":"cExp"},"mark":{"type":"point","filled":true,"size":10,"color":"#f42020","opacity":1},
 "encoding":{"x":{"field":"c","type":"quantitative","scale":{"domain":[49,1020],"range":[78,378],"nice":false,"zero":false},
   "axis":{"zindex":1,"orient":"bottom","offset":-135,"title":"Channel","values":[150,300,450,600,750,900],"labelExpr":"datum.value % 300 == 0 ? datum.label : ''","tickSize":-3,"domain":false,"labelPadding":8,"labelFontSize":16,"titleFontSize":16,"titlePadding":2}},
  "y":{"field":"v","type":"quantitative","scale":{"domain":[0,600],"range":[516,320],"nice":false,"zero":false},
   "axis":{"zindex":1,"orient":"left","offset":-78,"title":"Counts","values":[0,100,200,300,400,500,600],"labelExpr":"datum.value % 200 == 0 ? datum.label : ''","tickSize":-3,"domain":false,"labelPadding":6,"labelFontSize":16,"titleFontSize":15,"titlePadding":12}}}},
{"data":{"name":"cSim"},"mark":{"type":"line","color":"#1c1ce6","strokeWidth":2.5},
 "encoding":{"x":{"field":"c","type":"quantitative","scale":{"domain":[49,1020],"range":[78,378],"nice":false,"zero":false},"axis":null},
  "y":{"field":"v","type":"quantitative","scale":{"domain":[0,600],"range":[516,320],"nice":false,"zero":false},"axis":null}}},
{"data":{"name":"cText"},"mark":{"type":"text","fontSize":16,"color":"black"},
 "encoding":{"x":{"field":"c","type":"quantitative","scale":{"domain":[49,1020],"range":[78,378],"nice":false,"zero":false},"axis":null},
  "y":{"field":"v","type":"quantitative","scale":{"domain":[0,600],"range":[516,320],"nice":false,"zero":false},"axis":null},
  "text":{"field":"t"}}},

{"data":{"name":"insetFrame"},"mark":{"type":"rect","fill":"white","stroke":"black","strokeWidth":1.2},
 "encoding":{"x":{"field":"e0","type":"quantitative","scale":{"domain":[0,2100],"range":[563,863],"nice":false,"zero":false},
   "axis":{"zindex":1,"orient":"top","offset":-320,"title":"Energy (KeV)","values":[200,400,600,800,1000,1200,1400,1600,1800,2000],"labelExpr":"datum.value % 400 == 0 ? datum.label : ''","tickSize":-3,"domain":false,"labelPadding":8,"labelFontSize":16,"titleFontSize":14,"titlePadding":0}},
  "x2":{"field":"e1"},
  "y":{"field":"y0","type":"quantitative","scale":{"domain":[0,600],"range":[516,320],"nice":false,"zero":false},
   "axis":{"zindex":1,"orient":"right","offset":-47,"values":[100,200,300,400,500],"labels":false,"title":null,"domain":false,"tickSize":-3}},
  "y2":{"field":"y1"}}},
{"data":{"name":"dExp"},"mark":{"type":"point","filled":true,"size":10,"color":"#f42020","opacity":1},
 "encoding":{"x":{"field":"c","type":"quantitative","scale":{"domain":[49,1020],"range":[563,863],"nice":false,"zero":false},
   "axis":{"zindex":1,"orient":"bottom","offset":-135,"title":"Channel","values":[150,300,450,600,750,900],"labelExpr":"datum.value % 300 == 0 ? datum.label : ''","tickSize":-3,"domain":false,"labelPadding":8,"labelFontSize":16,"titleFontSize":16,"titlePadding":2}},
  "y":{"field":"v","type":"quantitative","scale":{"domain":[0,600],"range":[516,320],"nice":false,"zero":false},
   "axis":{"zindex":1,"orient":"left","offset":-563,"title":"Counts","values":[0,100,200,300,400,500,600],"labelExpr":"datum.value % 200 == 0 ? datum.label : ''","tickSize":-3,"domain":false,"labelPadding":6,"labelFontSize":16,"titleFontSize":15,"titlePadding":12}}}},
{"data":{"name":"dSim"},"mark":{"type":"line","color":"#1c1ce6","strokeWidth":2.5},
 "encoding":{"x":{"field":"c","type":"quantitative","scale":{"domain":[49,1020],"range":[563,863],"nice":false,"zero":false},"axis":null},
  "y":{"field":"v","type":"quantitative","scale":{"domain":[0,600],"range":[516,320],"nice":false,"zero":false},"axis":null}}},
{"data":{"name":"dText"},"mark":{"type":"text","fontSize":16,"color":"black"},
 "encoding":{"x":{"field":"c","type":"quantitative","scale":{"domain":[49,1020],"range":[563,863],"nice":false,"zero":false},"axis":null},
  "y":{"field":"v","type":"quantitative","scale":{"domain":[0,600],"range":[516,320],"nice":false,"zero":false},"axis":null},
  "text":{"field":"t"}}}
],
"resolve":{"scale":{"x":"independent","y":"independent"}}
}
